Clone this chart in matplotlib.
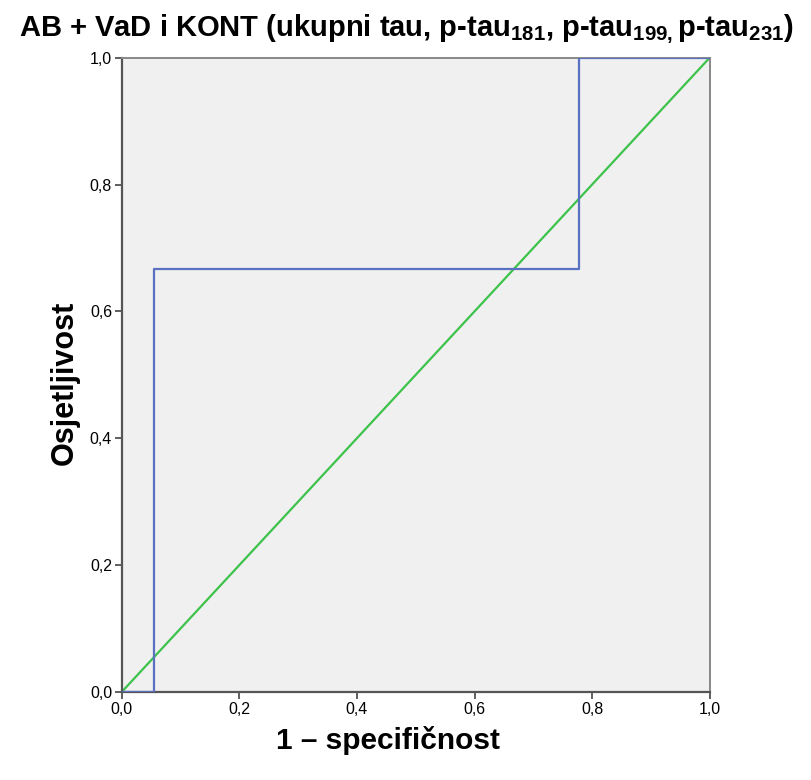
import matplotlib
matplotlib.use('Agg')
import matplotlib.pyplot as plt

plt.rcParams['font.family'] = ['Liberation Sans', 'DejaVu Sans']
plt.rcParams['mathtext.fontset'] = 'custom'
plt.rcParams['mathtext.bf'] = 'Liberation Sans:bold'
plt.rcParams['mathtext.rm'] = 'Liberation Sans:bold'
plt.rcParams['mathtext.default'] = 'bf'

# ROC curve (1 - specificity, sensitivity)
fpr = [0.0, 0.0556, 0.0556, 0.7778, 0.7778, 1.0]
tpr = [0.0, 0.0, 0.6667, 0.6667, 1.0, 1.0]
ref_line = [0.0, 1.0]
ticks = [0.0, 0.2, 0.4, 0.6, 0.8, 1.0]
tick_labels = ['0,0', '0,2', '0,4', '0,6', '0,8', '1,0']

fig = plt.figure(figsize=(8.12, 7.8), dpi=100)
ax = fig.add_axes([0.150, 0.113, 0.724, 0.813])
ax.set_facecolor('#f0f0f0')

ax.plot(ref_line, ref_line, color='#3dc24b', lw=1.6, zorder=2)
ax.plot(fpr, tpr, color='#5a70c0', lw=1.6, zorder=3)

ax.set_xlim(0, 1)
ax.set_ylim(0, 1)
ax.set_xticks(ticks)
ax.set_xticklabels(tick_labels)
ax.set_yticks(ticks)
ax.set_yticklabels(tick_labels)
ax.tick_params(direction='out', length=5, width=1.2, color='#444444', labelsize=11.5, pad=2)

for s in ['left', 'bottom']:
    ax.spines[s].set_color('#555555')
    ax.spines[s].set_linewidth(1.6)
for s in ['top', 'right']:
    ax.spines[s].set_color('#888888')
    ax.spines[s].set_linewidth(1.4)

fig.text(0.080, 0.509, 'Osjetljivost', rotation=90, ha='center', va='center',
         fontsize=22, fontweight='bold')
fig.text(0.478, 0.051, '1 – specifičnost', ha='center', va='center',
         fontsize=21.5, fontweight='bold')

fig.text(0.5, 0.962,
         r'AB + VaD i KONT (ukupni tau, p-tau$_{181}$, p-tau$_{199,}$p-tau$_{231}$)',
         ha='center', va='center', fontsize=21, fontweight='bold')

fig.savefig('out.png', dpi=100)
